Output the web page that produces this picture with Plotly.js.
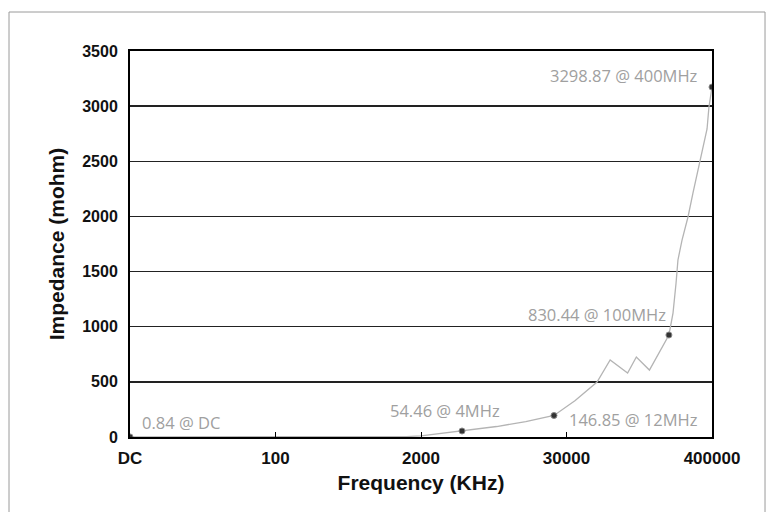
<!DOCTYPE html>
<html>
<head>
<meta charset="utf-8">
<script src="https://cdn.plot.ly/plotly-3.0.1.min.js"></script>
<style>html,body{margin:0;padding:0;background:#fff;}#chart{width:768px;height:512px;}</style>
</head>
<body>
<div id="chart"></div>
<script>
// x-axis category labels (KHz) and their axis positions
const tickLabels = ["DC", "100", "2000", "30000", "400000"];
const tickPos = [0, 1, 2, 3, 4];

// measured curve (position on the category axis, impedance in mohm)
const curvePos = [0, 0.5, 1, 1.5, 1.9, 2.0, 2.282, 2.52, 2.72, 2.914, 3.06, 3.21, 3.30, 3.42, 3.48, 3.57, 3.704, 3.732, 3.753, 3.766, 3.794, 3.835, 3.869, 3.904, 3.938, 3.966, 3.979, 4.0];
const curveVal = [0.84, 1, 1.5, 2, 4, 10, 54.46, 95, 140, 195, 330, 499, 698, 580, 725, 607, 925, 1124, 1396, 1605, 1786, 1995, 2212, 2421, 2603, 2793, 2992, 3173];

// highlighted points
const markPos = [0, 2.282, 2.914, 3.704, 4.0];
const markVal = [0.84, 54.46, 195, 925, 3173];
const markLabels = ["0.84 @ DC", "54.46 @ 4MHz", "146.85 @ 12MHz", "830.44 @ 100MHz", "3298.87 @ 400MHz"];

const yTicks = [0, 500, 1000, 1500, 2000, 2500, 3000, 3500];

const traces = [
  {x: curvePos, y: curveVal, mode: "lines", type: "scatter",
   line: {color: "#b4b4b4", width: 1.3}, hoverinfo: "skip", showlegend: false},
  {x: markPos, y: markVal, mode: "markers", type: "scatter",
   marker: {color: "#333", size: 6, line: {color: "#888", width: 1}}, showlegend: false}
];

const labelPlace = [
  {x: 0.069, y: 127, xanchor: "left"},
  {x: 1.773, y: 236, xanchor: "left"},
  {x: 3.003, y: 163, xanchor: "left"},
  {x: 2.722, y: 1115, xanchor: "left"},
  {x: 3.918, y: 3282, xanchor: "right"}
];
const annotations = markLabels.map((t, i) => ({
  text: t, x: labelPlace[i].x, y: labelPlace[i].y, xref: "x", yref: "y",
  xanchor: labelPlace[i].xanchor, yanchor: "middle", showarrow: false,
  font: {family: "Open Sans", size: 16.5, color: "#a0a0a0"}
}));

const layout = {
  width: 768, height: 512,
  margin: {l: 130, r: 56, t: 51, b: 75},
  paper_bgcolor: "#fff", plot_bgcolor: "#fff",
  showlegend: false,
  xaxis: {
    range: [0, 4], tickvals: tickPos, ticktext: tickLabels,
    showgrid: false, zeroline: false,
    showline: true, linecolor: "#000", linewidth: 2, mirror: true,
    ticks: "inside", ticklen: 5, tickcolor: "#000", tickwidth: 1,
    ticklabelstandoff: 5,
    tickfont: {family: "Liberation Sans, Arial", size: 17, color: "#111", weight: "bold"},
    title: {text: "Frequency (KHz)", standoff: 8,
            font: {family: "Liberation Sans, Arial", size: 21, color: "#111", weight: "bold"}}
  },
  yaxis: {
    range: [0, 3500], tickvals: yTicks,
    showgrid: true, gridcolor: "#222", gridwidth: 1.3, zeroline: false,
    showline: true, linecolor: "#000", linewidth: 2, mirror: true,
    ticks: "", ticklabelstandoff: 7,
    tickfont: {family: "Liberation Sans, Arial", size: 16, color: "#111", weight: "bold"},
    title: {text: "Impedance (mohm)", standoff: 12,
            font: {family: "Liberation Sans, Arial", size: 21, color: "#111", weight: "bold"}}
  },
  annotations: annotations,
  shapes: [{type: "rect", xref: "paper", yref: "paper",
            x0: -0.2079, x1: 1.0911, y0: -0.2, y1: 1.101,
            line: {color: "#9a9a9a", width: 1}, layer: "below"}]
};

Plotly.newPlot("chart", traces, layout, {staticPlot: true, displayModeBar: false});
</script>
</body>
</html>
